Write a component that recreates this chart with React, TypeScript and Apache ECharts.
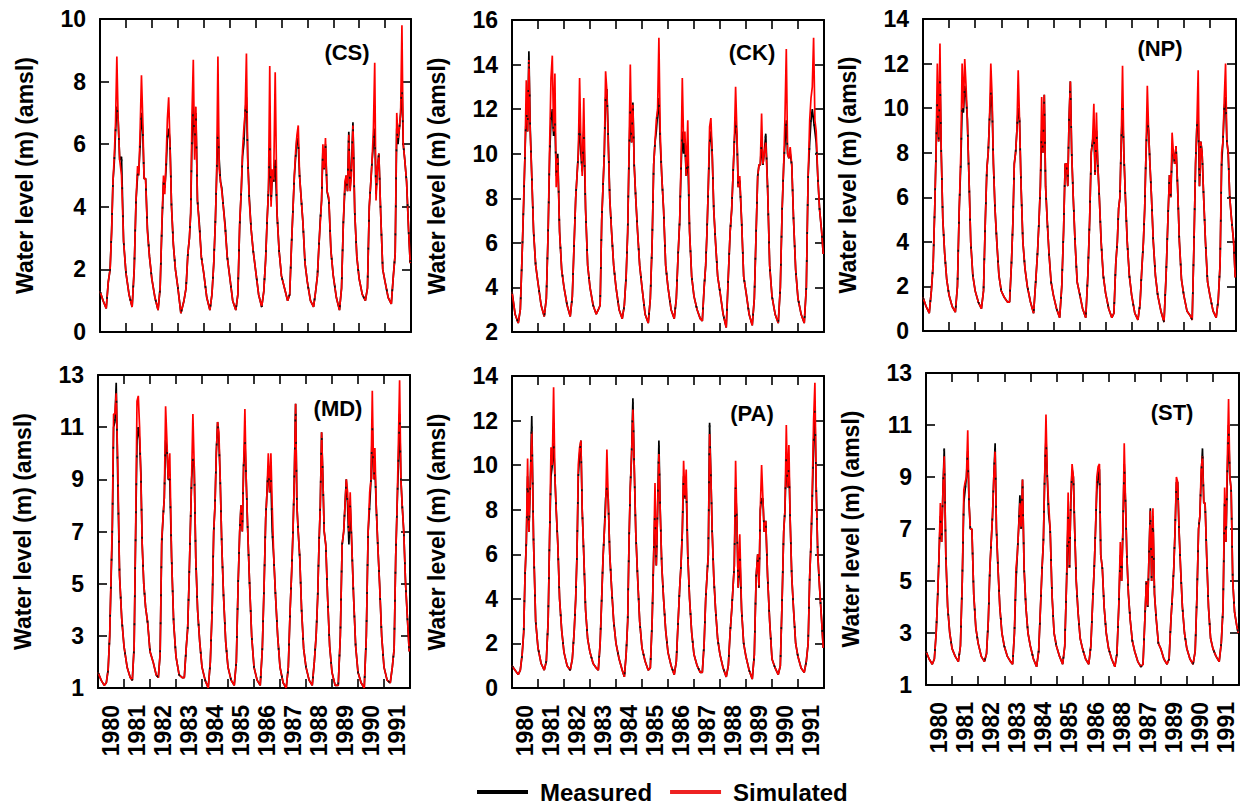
import React, { useEffect, useRef } from "react";
import * as echarts from "echarts";

// ---------- time grid (decimal years) ----------
const YEARS = [1980, 1981, 1982, 1983, 1984, 1985, 1986, 1987, 1988, 1989, 1990, 1991];
const YEAR_FRACTIONS = [0, 0.12, 0.24, 0.32, 0.39, 0.45, 0.5, 0.55, 0.6, 0.65, 0.7, 0.76, 0.83, 0.91];
const END_TIME = 1991.97;

const X_LABELS = ["1980", "1981", "1982", "1983", "1984", "1985", "1986", "1987", "1988", "1989", "1990", "1991"];
const X_LABELS_ST = ["1980", "1981", "1982", "1983", "1984", "1985", "1986", "1988", "1987", "1989", "1990", "1991"];

// ---------- CS ----------
const CS_MEASURED = [
  1.3, 1.0, 0.75, 1.6, 2.0, 3.3, 4.8, 5.4, 6.4, 7.2, 6.8, 5.5, 5.6, 2.9,
  1.9, 1.2, 0.8, 2.0, 4.2, 5.0, 5.2, 6.0, 7.0, 6.4, 4.9, 4.9, 3.3, 2.4,
  1.7, 1.1, 0.7, 1.4, 3.4, 4.8, 4.6, 5.2, 6.2, 6.5, 6.1, 4.0, 2.8, 2.0,
  1.45, 0.6, 1.0, 1.4, 2.5, 3.0, 3.8, 6.2, 7.2, 6.0, 7.0, 4.2, 3.5, 2.4,
  1.9, 1.1, 0.7, 1.2, 2.2, 3.5, 5.0, 6.5, 5.5, 4.8, 4.6, 4.0, 3.4, 2.4,
  1.8, 1.0, 0.7, 1.2, 3.4, 4.5, 5.6, 6.0, 7.0, 7.5, 5.6, 4.3, 3.3, 2.6,
  2.0, 1.2, 0.8, 1.3, 2.3, 3.6, 4.5, 6.0, 4.2, 5.0, 4.8, 5.5, 3.8, 2.6,
  1.8, 1.4, 1.0, 1.2, 2.8, 4.0, 5.0, 5.6, 6.2, 6.0, 5.0, 4.3, 3.5, 2.2,
  1.6, 1.0, 0.8, 1.3, 1.8, 2.8, 3.6, 4.2, 5.8, 5.2, 6.0, 4.5, 4.2, 2.6,
  1.8, 1.1, 0.7, 1.4, 3.5, 4.6, 5.0, 4.5, 6.4, 4.6, 5.2, 6.7, 3.8, 2.4,
  1.7, 1.2, 1.0, 1.4, 4.0, 4.8, 5.5, 6.0, 6.5, 4.4, 5.2, 5.7, 3.8, 2.0,
  1.6, 1.1, 0.9, 1.8, 2.5, 6.5, 6.0, 6.5, 7.0, 8.0, 6.0, 5.5, 4.8, 3.2,
  2.2,
];
const CS_SIMULATED = [
  1.3, 1.0, 0.75, 1.6, 2.0, 3.2, 4.8, 5.6, 6.7, 8.8, 6.8, 5.5, 5.0, 2.9,
  1.9, 1.2, 0.8, 2.0, 4.2, 5.3, 5.0, 6.5, 8.2, 6.8, 4.9, 4.9, 3.2, 2.4,
  1.7, 1.1, 0.7, 1.4, 3.5, 5.0, 4.4, 5.5, 6.8, 7.5, 6.0, 4.0, 2.8, 2.0,
  1.45, 0.6, 1.0, 1.4, 2.5, 3.0, 3.8, 7.0, 8.7, 5.5, 7.2, 4.2, 3.4, 2.4,
  1.9, 1.1, 0.7, 1.2, 2.2, 3.5, 5.0, 8.8, 5.2, 4.8, 4.5, 4.0, 3.3, 2.4,
  1.8, 1.0, 0.7, 1.2, 3.5, 4.5, 5.8, 6.5, 7.0, 8.9, 5.5, 4.2, 3.3, 2.6,
  2.0, 1.2, 0.8, 1.3, 2.3, 3.6, 4.5, 8.5, 4.0, 5.2, 4.8, 8.3, 3.8, 2.6,
  1.8, 1.4, 1.0, 1.2, 2.8, 4.0, 5.0, 5.8, 6.3, 6.6, 5.0, 4.3, 3.5, 2.2,
  1.6, 1.0, 0.8, 1.3, 1.8, 2.8, 3.5, 4.2, 6.0, 5.2, 6.2, 4.5, 4.3, 2.6,
  1.8, 1.1, 0.7, 1.4, 3.5, 4.8, 5.0, 4.5, 6.3, 4.5, 5.0, 6.6, 3.8, 2.4,
  1.7, 1.2, 1.0, 1.4, 4.0, 4.8, 5.5, 6.5, 8.6, 4.2, 5.2, 5.7, 3.8, 2.0,
  1.6, 1.1, 0.9, 1.8, 2.5, 7.0, 6.2, 6.5, 7.0, 9.8, 6.0, 5.5, 4.8, 3.2,
  2.2,
];

// ---------- CK ----------
const CK_MEASURED = [
  3.8, 2.8, 2.4, 3.0, 5.5, 7.8, 10.0, 12.0, 11.0, 14.6, 11.2, 9.0, 6.5, 5.0,
  4.2, 3.2, 2.7, 3.5, 6.5, 10.0, 11.5, 12.0, 10.8, 11.5, 9.0, 10.0, 6.5, 4.8,
  4.0, 3.2, 2.7, 3.6, 6.0, 8.0, 9.0, 10.0, 11.5, 10.0, 9.2, 11.0, 7.5, 5.0,
  4.0, 3.2, 2.8, 3.0, 3.2, 7.0, 8.5, 10.0, 12.5, 12.9, 10.8, 8.0, 6.5, 5.0,
  4.0, 3.0, 2.6, 3.2, 4.5, 6.5, 9.8, 12.0, 10.5, 12.3, 9.5, 8.0, 6.5, 5.0,
  4.0, 2.8, 2.4, 3.5, 6.0, 9.5, 10.5, 11.0, 11.8, 12.5, 10.5, 9.0, 7.5, 5.0,
  4.0, 3.0, 2.6, 3.5, 5.5, 7.0, 9.2, 11.0, 10.0, 10.5, 9.0, 10.0, 6.5, 4.5,
  3.6, 3.0, 2.6, 2.5, 4.0, 5.0, 6.5, 8.5, 10.5, 11.0, 10.0, 7.5, 6.0, 4.5,
  3.8, 2.8, 2.2, 4.5, 6.5, 7.5, 9.0, 10.5, 11.5, 10.8, 8.5, 8.8, 7.0, 4.5,
  3.8, 2.8, 2.3, 3.5, 6.5, 9.0, 9.5, 9.5, 10.5, 9.5, 10.0, 10.9, 8.5, 5.0,
  3.6, 2.8, 2.4, 4.0, 7.5, 9.5, 10.5, 11.5, 10.0, 9.8, 10.0, 9.5, 7.0, 4.8,
  3.5, 2.8, 2.4, 4.0, 9.0, 10.5, 11.5, 12.0, 11.5, 11.0, 10.5, 9.0, 7.5, 6.5,
  5.5,
];
const CK_SIMULATED = [
  3.8, 2.8, 2.4, 3.0, 5.5, 8.0, 10.0, 13.3, 11.0, 14.2, 11.0, 9.0, 6.5, 5.0,
  4.2, 3.2, 2.7, 3.5, 6.5, 10.5, 13.4, 14.4, 11.0, 13.6, 8.5, 9.8, 6.5, 4.8,
  4.0, 3.2, 2.7, 3.6, 6.0, 8.0, 9.0, 10.0, 13.4, 10.5, 9.0, 12.5, 7.5, 5.0,
  4.0, 3.2, 2.8, 3.0, 3.2, 7.0, 8.5, 10.0, 13.7, 12.8, 10.5, 8.0, 6.5, 5.0,
  4.0, 3.0, 2.6, 3.2, 4.5, 6.5, 10.0, 14.0, 10.5, 12.2, 9.5, 8.0, 6.5, 5.0,
  4.0, 2.8, 2.4, 3.5, 6.0, 9.5, 10.5, 11.5, 12.0, 15.2, 11.0, 9.0, 7.5, 5.0,
  4.0, 3.0, 2.6, 3.5, 5.5, 7.0, 9.5, 13.4, 10.5, 11.0, 9.0, 11.5, 6.5, 4.5,
  3.6, 3.0, 2.6, 2.5, 4.0, 5.0, 6.5, 8.5, 11.2, 11.6, 10.0, 7.5, 6.0, 4.5,
  3.8, 2.8, 2.2, 4.5, 6.5, 7.5, 9.0, 10.5, 13.0, 11.0, 8.5, 9.0, 7.0, 4.5,
  3.8, 2.8, 2.3, 3.5, 6.5, 9.0, 9.5, 9.5, 11.8, 9.5, 10.0, 10.5, 8.5, 5.0,
  3.6, 2.8, 2.4, 4.0, 7.5, 9.5, 11.7, 14.7, 10.0, 9.8, 10.3, 9.5, 7.0, 4.8,
  3.5, 2.8, 2.4, 4.0, 9.0, 11.5, 12.5, 13.0, 15.2, 11.5, 11.0, 9.0, 7.5, 6.5,
  5.5,
];

// ---------- NP ----------
const NP_MEASURED = [
  1.5, 1.1, 0.8, 1.8, 3.0, 5.5, 8.0, 10.5, 8.5, 11.5, 8.0, 5.0, 3.5, 2.3,
  1.6, 1.1, 0.85, 2.0, 5.5, 7.5, 10.0, 9.8, 11.0, 10.5, 9.5, 7.0, 4.0, 2.5,
  1.8, 1.3, 1.0, 1.8, 5.0, 7.3, 8.0, 9.5, 10.7, 10.0, 7.5, 5.5, 4.0, 2.5,
  1.8, 1.5, 1.3, 1.3, 3.0, 5.0, 7.5, 8.0, 9.0, 10.0, 9.5, 6.5, 4.0, 2.8,
  2.0, 1.3, 0.8, 2.2, 3.5, 5.0, 6.5, 9.0, 8.0, 10.6, 6.5, 5.0, 3.5, 2.2,
  1.6, 1.0, 0.6, 2.0, 4.5, 7.5, 7.5, 6.5, 9.5, 11.2, 8.0, 6.0, 4.0, 2.2,
  1.7, 1.0, 0.6, 2.5, 5.0, 8.0, 8.5, 9.0, 7.0, 9.0, 7.5, 6.0, 4.0, 2.5,
  1.7, 1.0, 0.6, 0.8, 3.0, 4.0, 5.5, 6.0, 8.5, 10.0, 8.0, 6.0, 4.0, 2.5,
  1.6, 0.8, 0.5, 1.2, 2.8, 4.0, 5.5, 8.0, 9.5, 9.0, 7.5, 6.0, 4.0, 2.5,
  1.6, 0.9, 0.4, 2.5, 5.0, 7.0, 6.0, 8.0, 8.0, 7.5, 8.3, 6.5, 4.0, 2.3,
  1.6, 0.9, 0.7, 0.5, 4.0, 7.5, 9.2, 9.5, 6.5, 8.5, 8.0, 6.0, 4.0, 2.2,
  1.6, 0.9, 0.6, 1.4, 3.0, 7.5, 8.5, 10.0, 10.5, 8.5, 8.0, 6.0, 5.0, 4.0,
  2.4,
];
const NP_SIMULATED = [
  1.5, 1.1, 0.8, 1.8, 3.0, 5.5, 8.0, 12.0, 8.5, 12.9, 8.0, 5.0, 3.5, 2.3,
  1.6, 1.1, 0.85, 2.0, 5.5, 8.0, 12.0, 10.0, 12.2, 11.0, 9.5, 7.0, 4.0, 2.5,
  1.8, 1.3, 1.0, 1.8, 5.0, 7.3, 8.0, 9.5, 12.0, 10.5, 7.5, 5.5, 4.0, 2.5,
  1.8, 1.5, 1.3, 1.3, 3.0, 5.0, 7.5, 8.0, 9.0, 11.7, 9.5, 6.5, 4.0, 2.8,
  2.0, 1.3, 0.8, 2.2, 3.5, 5.0, 6.5, 10.5, 8.0, 10.6, 6.5, 5.0, 3.5, 2.2,
  1.6, 1.0, 0.6, 2.0, 4.5, 7.5, 7.5, 6.5, 9.5, 11.2, 8.0, 6.0, 4.0, 2.2,
  1.7, 1.0, 0.6, 2.5, 5.0, 8.0, 8.5, 10.2, 7.0, 9.8, 7.5, 6.0, 4.0, 2.5,
  1.7, 1.0, 0.6, 0.8, 3.0, 4.0, 5.5, 6.0, 8.5, 11.9, 8.0, 6.0, 4.0, 2.5,
  1.6, 0.8, 0.5, 1.2, 2.8, 4.0, 5.5, 8.0, 11.0, 9.0, 7.5, 6.0, 4.0, 2.5,
  1.6, 0.9, 0.4, 2.5, 5.0, 7.0, 6.0, 8.9, 8.0, 7.5, 8.3, 6.5, 4.0, 2.3,
  1.6, 0.9, 0.7, 0.5, 4.0, 7.5, 9.2, 11.7, 6.5, 8.5, 8.0, 6.0, 4.0, 2.2,
  1.6, 0.9, 0.6, 1.4, 3.0, 8.0, 8.5, 10.4, 12.0, 8.5, 8.0, 6.0, 5.0, 4.0,
  2.4,
];

// ---------- MD ----------
const MD_MEASURED = [
  1.6, 1.3, 1.1, 1.2, 1.7, 3.0, 5.0, 7.0, 11.0, 11.2, 12.7, 9.0, 5.3, 3.7,
  2.6, 1.8, 1.4, 1.3, 2.6, 7.0, 10.5, 11.0, 10.5, 9.2, 6.5, 5.0, 4.1, 3.5,
  2.4, 2.0, 1.5, 1.4, 2.3, 6.5, 7.5, 8.3, 10.5, 10.2, 9.0, 9.0, 6.0, 3.5,
  2.2, 1.5, 1.4, 1.4, 2.5, 3.3, 5.0, 7.0, 9.0, 9.8, 9.5, 6.0, 4.0, 2.8,
  1.8, 1.3, 1.0, 2.0, 4.0, 7.0, 8.0, 10.0, 11.2, 10.5, 9.0, 6.5, 4.5, 2.8,
  1.8, 1.3, 1.1, 2.0, 5.0, 7.0, 8.0, 7.0, 9.5, 10.5, 9.0, 7.0, 5.0, 3.0,
  1.8, 1.3, 1.1, 2.5, 5.0, 7.5, 8.5, 9.5, 8.5, 9.0, 7.0, 6.0, 4.5, 3.0,
  1.8, 1.2, 1.0, 1.8, 4.0, 5.5, 7.0, 9.0, 11.9, 8.0, 7.0, 6.0, 4.0, 2.5,
  1.8, 1.3, 1.1, 2.0, 3.0, 4.5, 6.5, 8.0, 10.8, 9.0, 7.0, 6.5, 4.5, 2.6,
  1.6, 1.1, 1.1, 3.0, 6.5, 7.0, 8.0, 9.0, 8.0, 6.5, 8.0, 6.5, 4.5, 2.6,
  1.6, 1.2, 1.0, 3.0, 7.0, 8.0, 9.0, 11.0, 9.0, 9.5, 8.0, 6.5, 5.0, 3.0,
  1.8, 1.3, 1.2, 1.8, 2.5, 6.0, 7.8, 9.5, 11.5, 9.0, 8.0, 7.0, 5.0, 3.5,
  2.4,
];
const MD_SIMULATED = [
  1.6, 1.3, 1.1, 1.2, 1.7, 3.0, 5.2, 7.3, 11.5, 11.5, 12.3, 9.6, 5.3, 3.7,
  2.6, 1.8, 1.4, 1.3, 2.6, 7.3, 12.0, 12.2, 11.0, 9.0, 6.5, 5.0, 4.1, 3.5,
  2.4, 2.0, 1.5, 1.4, 2.3, 6.7, 7.5, 8.3, 11.8, 10.5, 9.0, 10.0, 6.0, 3.5,
  2.2, 1.5, 1.4, 1.4, 2.5, 3.3, 5.0, 7.0, 9.0, 11.5, 9.5, 6.0, 4.0, 2.8,
  1.8, 1.3, 1.0, 2.0, 4.0, 7.0, 8.0, 10.0, 11.2, 10.8, 9.0, 6.5, 4.5, 2.8,
  1.8, 1.3, 1.1, 2.0, 5.0, 7.0, 8.0, 7.0, 9.5, 11.7, 9.0, 7.0, 5.0, 3.0,
  1.8, 1.3, 1.1, 2.5, 5.0, 7.5, 8.5, 10.0, 8.5, 10.0, 8.0, 6.0, 4.5, 3.0,
  1.8, 1.2, 1.0, 1.8, 4.0, 5.5, 7.0, 9.0, 11.9, 8.0, 7.0, 6.0, 4.0, 2.5,
  1.8, 1.3, 1.1, 2.0, 3.0, 4.5, 6.5, 8.0, 10.8, 9.0, 7.0, 6.5, 4.5, 2.6,
  1.6, 1.1, 1.1, 3.0, 6.5, 7.0, 8.0, 9.0, 8.5, 7.0, 8.5, 6.5, 4.5, 2.6,
  1.6, 1.2, 1.0, 3.0, 7.0, 8.5, 9.0, 12.4, 9.0, 10.2, 8.0, 6.5, 5.0, 3.0,
  1.8, 1.3, 1.2, 1.8, 2.5, 6.0, 7.8, 10.2, 12.8, 9.0, 8.0, 7.0, 5.0, 3.5,
  2.4,
];

// ---------- PA ----------
const PA_MEASURED = [
  1.0, 0.8, 0.6, 0.8, 1.5, 2.5, 5.0, 6.5, 9.5, 7.0, 9.0, 12.2, 6.5, 3.0,
  1.8, 1.1, 0.8, 1.2, 3.0, 7.0, 9.5, 10.0, 11.0, 9.5, 8.0, 6.5, 4.0, 2.6,
  1.6, 1.0, 0.8, 1.3, 2.5, 4.0, 6.0, 9.5, 10.5, 11.1, 8.0, 6.0, 3.5, 2.2,
  1.6, 1.1, 0.9, 0.8, 2.0, 4.0, 5.8, 7.0, 8.5, 9.0, 8.5, 6.0, 4.5, 3.0,
  2.0, 1.3, 0.8, 0.5, 1.5, 3.0, 6.5, 9.0, 10.5, 13.0, 10.0, 7.0, 5.0, 3.0,
  1.8, 1.2, 0.8, 0.9, 3.0, 6.0, 8.0, 5.5, 8.0, 11.1, 8.0, 5.5, 4.0, 2.6,
  1.6, 1.0, 0.6, 1.2, 3.0, 4.5, 5.5, 7.0, 9.5, 8.5, 9.0, 6.0, 4.0, 2.5,
  1.5, 1.0, 0.7, 0.7, 2.0, 4.0, 5.0, 6.0, 11.9, 9.5, 7.0, 5.0, 3.5, 2.2,
  1.5, 0.9, 0.5, 1.0, 2.5, 3.5, 4.5, 5.5, 9.0, 7.5, 4.5, 6.0, 3.5, 2.0,
  1.4, 0.8, 0.4, 1.5, 5.0, 6.0, 4.5, 8.0, 8.5, 8.5, 7.0, 7.5, 5.0, 3.0,
  1.3, 0.9, 0.6, 1.0, 4.0, 7.0, 8.0, 10.5, 9.0, 10.0, 7.5, 5.0, 3.5, 2.0,
  1.4, 0.9, 0.7, 1.2, 2.0, 5.0, 6.5, 8.5, 11.0, 12.5, 9.0, 6.0, 4.5, 3.0,
  1.8,
];
const PA_SIMULATED = [
  1.0, 0.8, 0.6, 0.8, 1.5, 2.5, 5.0, 6.5, 10.3, 7.0, 9.0, 11.5, 6.5, 3.0,
  1.8, 1.1, 0.8, 1.2, 3.0, 7.0, 10.8, 10.0, 13.5, 9.5, 8.0, 6.5, 4.0, 2.6,
  1.6, 1.0, 0.8, 1.3, 2.5, 4.0, 6.0, 10.0, 10.8, 11.1, 8.0, 6.0, 3.5, 2.2,
  1.6, 1.1, 0.9, 0.8, 2.0, 4.0, 5.8, 7.0, 8.0, 10.7, 8.5, 6.0, 4.5, 3.0,
  2.0, 1.3, 0.8, 0.5, 1.5, 3.0, 6.5, 9.0, 10.5, 12.5, 10.0, 7.0, 5.0, 3.0,
  1.8, 1.2, 0.8, 0.9, 3.0, 6.0, 9.2, 5.5, 8.0, 10.5, 8.0, 5.5, 4.0, 2.6,
  1.6, 1.0, 0.6, 1.2, 3.0, 4.5, 5.5, 7.0, 10.2, 8.5, 9.8, 6.0, 4.0, 2.5,
  1.5, 1.0, 0.7, 0.7, 2.0, 4.0, 5.0, 6.0, 11.4, 9.5, 7.0, 5.0, 3.5, 2.2,
  1.5, 0.9, 0.5, 1.0, 2.5, 3.5, 4.5, 5.5, 10.2, 7.5, 4.5, 6.9, 3.5, 2.0,
  1.4, 0.8, 0.4, 1.5, 5.0, 6.0, 4.5, 8.0, 10.0, 8.5, 7.0, 7.5, 5.0, 3.0,
  1.3, 0.9, 0.6, 1.0, 4.0, 7.0, 8.0, 11.8, 9.0, 10.9, 7.5, 5.0, 3.5, 2.0,
  1.4, 0.9, 0.7, 1.2, 2.0, 5.0, 6.5, 9.0, 12.0, 13.7, 9.0, 6.0, 4.5, 3.0,
  1.8,
];

// ---------- ST ----------
const ST_MEASURED = [
  2.3, 2.0, 1.8, 2.0, 3.0, 4.5, 6.0, 7.5, 6.5, 8.5, 10.1, 6.0, 4.0, 3.0,
  2.4, 2.1, 1.9, 2.5, 5.0, 8.0, 8.5, 9.0, 10.0, 8.0, 7.0, 7.0, 4.5, 3.2,
  2.6, 2.1, 1.9, 2.2, 3.5, 5.5, 6.5, 7.5, 9.0, 10.3, 7.0, 5.5, 4.0, 3.0,
  2.5, 2.1, 1.9, 1.8, 3.0, 5.0, 6.0, 7.0, 8.3, 7.0, 8.9, 5.5, 4.0, 3.0,
  2.5, 2.0, 1.7, 2.3, 4.0, 5.5, 6.5, 9.0, 10.5, 9.0, 7.6, 7.0, 4.5, 3.0,
  2.5, 2.1, 1.8, 2.5, 5.0, 7.5, 5.5, 8.0, 9.3, 9.0, 7.0, 5.0, 3.8, 2.8,
  2.4, 2.0, 1.8, 2.5, 4.2, 5.5, 7.0, 8.5, 9.0, 9.3, 6.0, 5.5, 4.0, 3.0,
  2.4, 2.0, 1.7, 2.2, 4.0, 6.0, 5.0, 7.0, 9.5, 8.0, 6.0, 4.5, 3.5, 2.7,
  2.3, 1.9, 1.7, 1.8, 3.5, 5.0, 4.0, 6.0, 7.8, 5.0, 7.5, 4.5, 3.5, 2.6,
  2.4, 2.0, 1.8, 2.0, 3.5, 4.5, 5.5, 7.0, 8.8, 8.8, 7.0, 5.5, 4.0, 3.0,
  2.4, 2.0, 1.8, 2.3, 4.5, 7.0, 7.5, 9.0, 10.1, 8.0, 8.0, 6.0, 4.0, 2.8,
  2.4, 2.1, 1.9, 2.6, 4.0, 8.0, 6.5, 9.0, 11.0, 9.0, 8.5, 5.0, 3.8, 3.3,
  3.0,
];
const ST_SIMULATED = [
  2.3, 2.0, 1.8, 2.0, 3.0, 4.5, 6.0, 8.0, 6.5, 8.5, 9.8, 6.0, 4.0, 3.0,
  2.4, 2.1, 1.9, 2.5, 5.0, 8.5, 8.8, 9.0, 10.8, 8.0, 7.0, 7.0, 4.5, 3.2,
  2.6, 2.1, 1.9, 2.2, 3.5, 5.5, 6.5, 7.5, 9.0, 10.0, 7.0, 5.5, 4.0, 3.0,
  2.5, 2.1, 1.9, 1.8, 3.0, 5.5, 6.0, 7.0, 8.0, 7.0, 8.9, 5.5, 4.0, 3.0,
  2.5, 2.0, 1.7, 2.3, 4.0, 5.5, 6.5, 9.0, 11.4, 9.0, 8.0, 7.0, 4.5, 3.0,
  2.5, 2.1, 1.8, 2.5, 5.0, 8.4, 5.5, 8.0, 9.5, 9.0, 7.0, 5.0, 3.8, 2.8,
  2.4, 2.0, 1.8, 2.5, 4.2, 5.5, 7.0, 9.0, 9.4, 9.5, 6.0, 5.5, 4.0, 3.0,
  2.4, 2.0, 1.7, 2.2, 4.0, 6.5, 5.0, 7.0, 10.3, 8.0, 6.0, 4.5, 3.5, 2.7,
  2.3, 1.9, 1.7, 1.8, 3.5, 5.0, 4.0, 6.0, 7.7, 5.0, 7.8, 4.5, 3.5, 2.6,
  2.4, 2.0, 1.8, 2.0, 3.5, 4.5, 5.5, 7.0, 9.0, 8.8, 7.0, 5.5, 4.0, 3.0,
  2.4, 2.0, 1.8, 2.3, 4.5, 7.0, 7.5, 9.3, 9.8, 8.0, 8.0, 6.0, 4.0, 2.8,
  2.4, 2.1, 1.9, 2.6, 4.0, 8.6, 6.5, 9.5, 12.0, 9.0, 8.5, 5.0, 3.8, 3.3,
  3.0,
];

// ---------- panel definitions ----------
const PANEL_NAMES = ["(CS)", "(CK)", "(NP)", "(MD)", "(PA)", "(ST)"];
const MEASURED = [CS_MEASURED, CK_MEASURED, NP_MEASURED, MD_MEASURED, PA_MEASURED, ST_MEASURED];
const SIMULATED = [CS_SIMULATED, CK_SIMULATED, NP_SIMULATED, MD_SIMULATED, PA_SIMULATED, ST_SIMULATED];
const Y_MIN = [0, 2, 0, 1, 0, 1];
const Y_MAX = [10, 16, 14, 13, 14, 13];
const Y_STEP = [2, 2, 2, 2, 2, 2];
const X_CATEGORY_LABELS = [X_LABELS, X_LABELS, X_LABELS, X_LABELS, X_LABELS, X_LABELS_ST];

// layout (pixels)
const LAYOUT = [
  { left: 100, top: 19, width: 311, height: 313, lx: 247, ly: 33 },
  { left: 512, top: 20, width: 312, height: 312, lx: 240, ly: 32 },
  { left: 923, top: 19, width: 313, height: 312, lx: 237, ly: 29 },
  { left: 98, top: 375, width: 312, height: 313, lx: 240, ly: 33 },
  { left: 512, top: 376, width: 312, height: 312, lx: 240, ly: 37 },
  { left: 926, top: 373, width: 313, height: 312, lx: 246, ly: 39 },
];

const FONT = "'Liberation Sans', Arial, Helvetica, sans-serif";

const TIMES: number[] = YEARS.flatMap((y) => YEAR_FRACTIONS.map((f) => +(y + f).toFixed(2))).concat([END_TIME]);

function pairs(values: number[]) {
  return TIMES.map((t, i) => [t, values[i]]);
}

function buildOption() {
  const frameLine = { show: true, onZero: false, lineStyle: { color: "#000", width: 2 } };
  const innerTick = { show: true, inside: true, length: 9, lineStyle: { color: "#000", width: 1.6 } };

  const grid: any[] = [];
  const xAxis: any[] = [];
  const yAxis: any[] = [];
  const series: any[] = [];
  const graphic: any[] = [];

  LAYOUT.forEach((l, i) => {
    const bottomRow = i >= 3;
    grid.push({ left: l.left, top: l.top, width: l.width, height: l.height, containLabel: false });

    xAxis.push({
      type: "value", gridIndex: i, position: "bottom", min: 1980, max: 1992, interval: 1,
      axisLine: frameLine, axisTick: innerTick, axisLabel: { show: false }, splitLine: { show: false },
    });
    xAxis.push({
      type: "value", gridIndex: i, position: "top", min: 1980, max: 1992, interval: 1,
      axisLine: frameLine, axisTick: innerTick, axisLabel: { show: false }, splitLine: { show: false },
    });
    xAxis.push({
      type: "category", gridIndex: i, position: "bottom", data: X_CATEGORY_LABELS[i], boundaryGap: true,
      axisLine: { show: false }, axisTick: { show: false }, splitLine: { show: false },
      axisLabel: {
        show: bottomRow, rotate: 90, margin: 17, interval: 0,
        fontSize: 23, fontWeight: "bold", color: "#000", fontFamily: FONT,
      },
    });

    yAxis.push({
      type: "value", gridIndex: i, position: "left", min: Y_MIN[i], max: Y_MAX[i], interval: Y_STEP[i],
      name: "Water level (m) (amsl)", nameLocation: "middle", nameGap: 64,
      nameTextStyle: { fontSize: 23, fontWeight: "bold", color: "#000", fontFamily: FONT },
      axisLine: frameLine, axisTick: innerTick, splitLine: { show: false },
      axisLabel: { fontSize: 23, fontWeight: "bold", color: "#000", fontFamily: FONT, margin: 14 },
    });
    yAxis.push({
      type: "value", gridIndex: i, position: "right", min: Y_MIN[i], max: Y_MAX[i], interval: Y_STEP[i],
      axisLine: frameLine, axisTick: innerTick, splitLine: { show: false }, axisLabel: { show: false },
    });

    const measuredData = pairs(MEASURED[i]);
    // measured: full line underneath the simulated one
    series.push({
      type: "line", name: "Measured", xAxisIndex: 3 * i, yAxisIndex: 2 * i,
      data: measuredData, showSymbol: false, symbol: "none", silent: true,
      color: "#000", itemStyle: { color: "#000" }, lineStyle: { color: "#000", width: 1.7 }, z: 2,
    });
    series.push({
      type: "line", name: "Simulated", xAxisIndex: 3 * i, yAxisIndex: 2 * i,
      data: pairs(SIMULATED[i]), showSymbol: false, symbol: "none", silent: true,
      color: "#ff0000", itemStyle: { color: "#ff0000" }, lineStyle: { color: "#ff0000", width: 1.7 }, z: 3,
    });
    // measured again, sparsely dashed, so its black specks show through the red as in the original
    series.push({
      type: "line", name: "Measured", xAxisIndex: 3 * i, yAxisIndex: 2 * i,
      data: measuredData, showSymbol: false, symbol: "none", silent: true,
      color: "#000", itemStyle: { color: "#000" },
      lineStyle: { color: "#111", width: 1.6, type: [2, 26] }, z: 4,
    });

    graphic.push({
      type: "text", x: l.left + l.lx, y: l.top + l.ly, z: 10,
      style: {
        text: PANEL_NAMES[i], fill: "#000", font: `bold 22px ${FONT}`,
        textAlign: "center", textVerticalAlign: "middle", align: "center", verticalAlign: "middle",
      },
    });
  });

  return {
    animation: false,
    backgroundColor: "#fff",
    grid, xAxis, yAxis, series, graphic,
    legend: {
      data: [
        { name: "Measured", itemStyle: { color: "#000" } },
        { name: "Simulated", itemStyle: { color: "#ee2222" } },
      ],
      icon: "rect", itemWidth: 51, itemHeight: 4, itemGap: 18,
      left: 477, top: 780, padding: 0, selectedMode: false,
      textStyle: { fontSize: 24, fontWeight: "bold", color: "#000", fontFamily: FONT, padding: [0, 0, 0, 7] },
    },
  };
}

export default function App() {
  const ref = useRef<HTMLDivElement>(null);
  useEffect(() => {
    const chart = echarts.init(ref.current!, null, { renderer: "svg" });
    chart.setOption(buildOption() as any);
    return () => chart.dispose();
  }, []);
  return (
    <div
      ref={ref}
      style={{ position: "fixed", left: 0, top: 0, width: 1243, height: 806, background: "#fff" }}
    />
  );
}
